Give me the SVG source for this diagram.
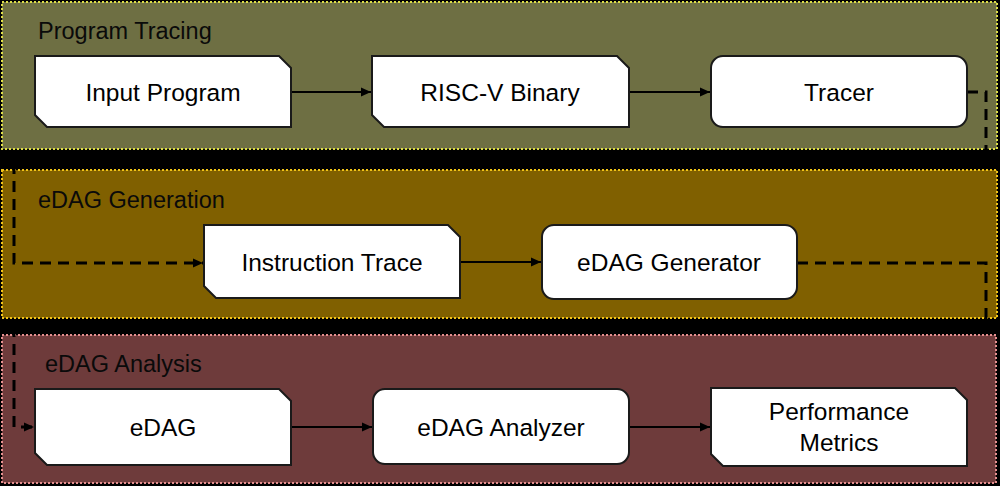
<svg xmlns="http://www.w3.org/2000/svg" width="1000" height="486" viewBox="0 0 1000 486">
<style>
.panel{stroke-width:2;stroke-dasharray:2,2}
.ptitle{font-family:"Liberation Sans",Arial,sans-serif;font-size:23.5px;fill:#0a0a0a}
.box{fill:#fff;stroke:#1a1a1a;stroke-width:2}
.lbl{font-family:"Liberation Sans",Arial,sans-serif;font-size:24.5px;fill:#000;text-anchor:middle;dominant-baseline:central}
.solid{fill:none;stroke:#000;stroke-width:2.2}
.dash{fill:none;stroke:#000;stroke-width:3;stroke-dasharray:11,7}
</style>
<defs>
<marker id="ah" viewBox="0 0 10 10" refX="10" refY="5" markerWidth="10" markerHeight="10" markerUnits="userSpaceOnUse" orient="auto">
<path d="M0,0.5 L10,5 L0,9.5 z" fill="#000"/>
</marker>
</defs>
<rect x="0" y="0" width="1000" height="486" fill="#000"/>
<g id="panel-tracing">
<rect class="panel" x="2" y="2" width="995" height="147" fill="#6e6f43" stroke="#dede48"/>
<text class="ptitle" x="38" y="39">Program Tracing</text>
</g>
<g id="panel-generation">
<rect class="panel" x="2" y="170" width="995" height="148" fill="#806000" stroke="#f2c418"/>
<text class="ptitle" x="38" y="208">eDAG Generation</text>
</g>
<g id="panel-analysis">
<rect class="panel" x="2" y="335" width="994" height="148" fill="#6e3b3b" stroke="#e58f8f"/>
<text class="ptitle" x="45" y="372">eDAG Analysis</text>
</g>
<g id="connectors">
<path class="solid" d="M291,92 H371" marker-end="url(#ah)"/>
<path class="solid" d="M629,92 H710" marker-end="url(#ah)"/>
<path class="dash" d="M967,92 H986 V158 H14 V263 H203" marker-end="url(#ah)"/>
<path class="solid" d="M460,262 H541" marker-end="url(#ah)"/>
<path class="dash" d="M797,263 H986 V326 H14 V427 H34" marker-end="url(#ah)"/>
<path class="solid" d="M291,427 H372" marker-end="url(#ah)"/>
<path class="solid" d="M629,427 H710" marker-end="url(#ah)"/>
</g>
<g id="input-program">
<polygon class="box" points="35,56 279,56 291,68 291,127 47,127 35,115"/>
<text class="lbl" x="163" y="92">Input Program</text>
</g>
<g id="risc-v-binary">
<polygon class="box" points="372,56 617,56 629,68 629,127 384,127 372,115"/>
<text class="lbl" x="500" y="92">RISC-V Binary</text>
</g>
<g id="tracer">
<rect class="box" x="711" y="56" width="256" height="71" rx="12"/>
<text class="lbl" x="839" y="92">Tracer</text>
</g>
<g id="instruction-trace">
<polygon class="box" points="204,225 448,225 460,237 460,298 216,298 204,286"/>
<text class="lbl" x="332" y="262">Instruction Trace</text>
</g>
<g id="edag-generator">
<rect class="box" x="542" y="225" width="255" height="74" rx="12"/>
<text class="lbl" x="669" y="262">eDAG Generator</text>
</g>
<g id="edag">
<polygon class="box" points="35,389 279,389 291,401 291,465 47,465 35,453"/>
<text class="lbl" x="163" y="427">eDAG</text>
</g>
<g id="edag-analyzer">
<rect class="box" x="373" y="389" width="256" height="75" rx="12"/>
<text class="lbl" x="501" y="427">eDAG Analyzer</text>
</g>
<g id="performance-metrics">
<polygon class="box" points="711,388 955,388 967,400 967,466 723,466 711,454"/>
<text class="lbl" x="839" y="411">Performance</text>
<text class="lbl" x="839" y="442">Metrics</text>
</g>
</svg>
